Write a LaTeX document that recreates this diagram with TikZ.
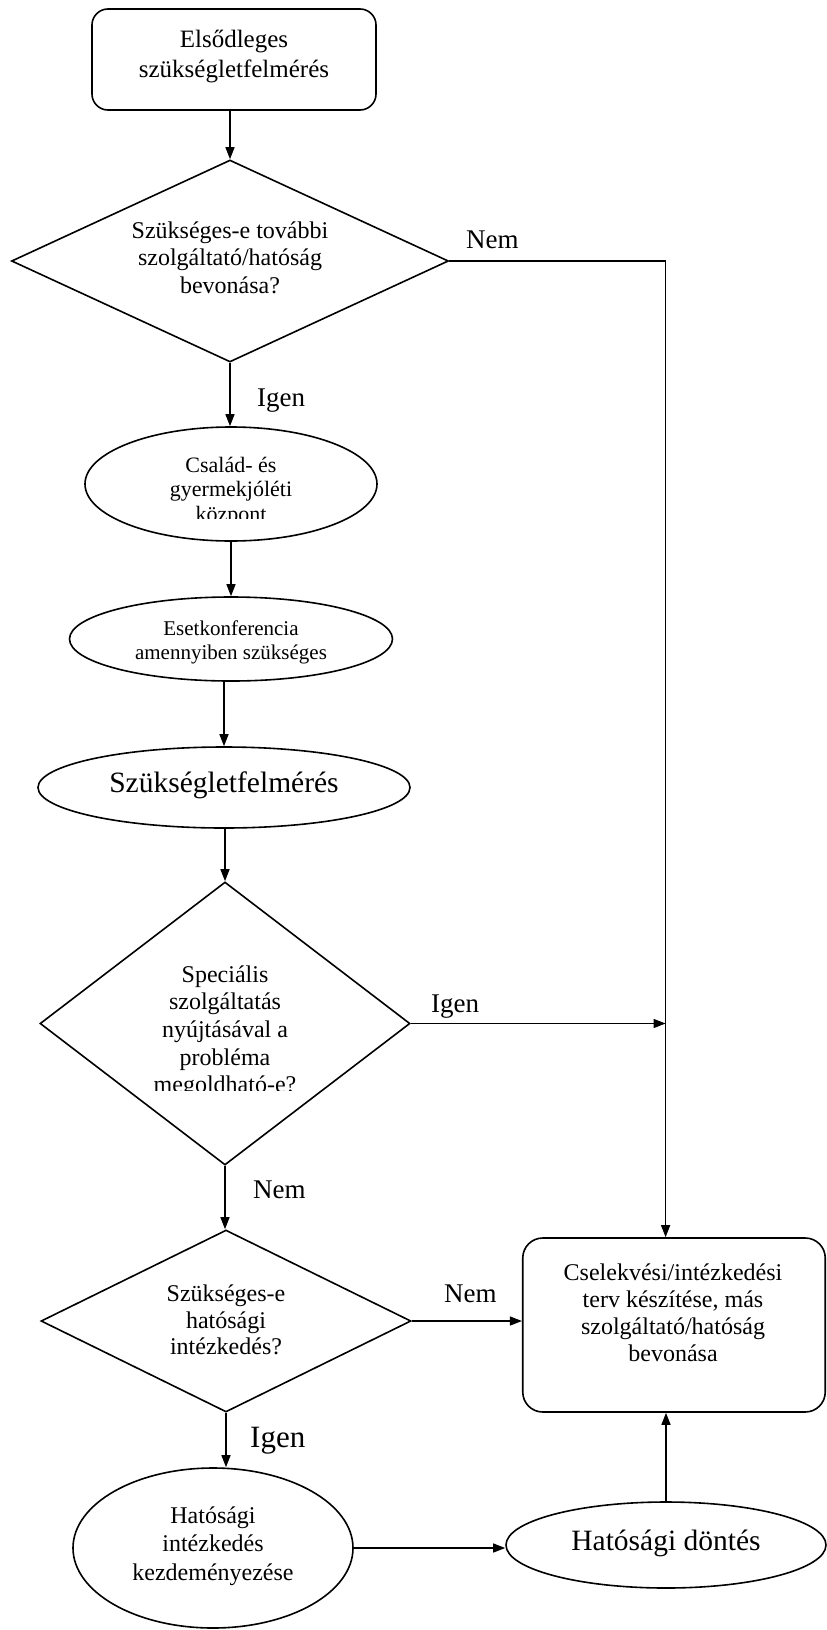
\documentclass[tikz,border=0pt]{standalone}
\usepackage{fontspec}
\setmainfont{Liberation Serif}
\usetikzlibrary{shapes.geometric,arrows.meta}
\begin{document}
\begin{tikzpicture}[x=1pt,y=-1pt,
  shapeline/.style={draw, line width=1.6pt},
  arr/.style={-{Triangle[length=12pt,width=9pt]}, line width=1.3pt},
  rbox/.style={shapeline, rectangle, rounded corners=16pt, inner sep=0pt},
  ell/.style={shapeline, ellipse, inner sep=0pt},
  dia/.style={shapeline, diamond, inner sep=0pt},
  txt/.style={inner sep=0pt, align=center},
  lbl/.style={inner sep=0pt, anchor=base west, font=\fontsize{27}{30}\selectfont},
]
\fill[white] (0,0) rectangle (827,1630);
\useasboundingbox (0,0) rectangle (827,1630);

% shapes
\node[rbox, minimum width=284pt, minimum height=101pt] (b1) at (234,59.5) {};
\node[txt, font=\fontsize{25}{30}\selectfont] (t1) at (234,57) {Elsődleges\\szükségletfelmérés};

\node[dia, minimum width=437pt, minimum height=202pt] (d1) at (230,261) {};
\node[txt, font=\fontsize{24}{27.5}\selectfont] (t2) at (230,257.5) {Szükséges-e további\\szolgáltató/hatóság\\bevonása?};

\node[ell, minimum width=292pt, minimum height=114pt] (e1) at (231,484) {};
\begin{scope}
  \clip (100,440) rectangle (360,518.5);
  \node[txt, font=\fontsize{22}{24.5}\selectfont] (t3) at (231,491.3) {Család- és\\gyermekjóléti\\központ};
\end{scope}

\node[ell, minimum width=323pt, minimum height=84pt] (e2) at (231,639) {};
\begin{scope}
  \clip (80,600) rectangle (390,663);
  \node[txt, font=\fontsize{21}{24}\selectfont] (t4) at (231,642) {Esetkonferencia\\amennyiben szükséges};
\end{scope}

\node[ell, minimum width=372pt, minimum height=81pt] (e3) at (224,787.5) {};
\node[inner sep=0pt, anchor=base, font=\fontsize{29.5}{33}\selectfont] (t5) at (224,792) {Szükségletfelmérés};

\node[dia, minimum width=370pt, minimum height=283pt] (d2) at (225,1023.5) {};
\begin{scope}
  \clip (60,900) rectangle (400,1090);
  \node[txt, font=\fontsize{24}{27.7}\selectfont] (t6) at (225,1031.8) {Speciális\\szolgáltatás\\nyújtásával a\\probléma\\megoldható-e?};
\end{scope}

\node[dia, minimum width=370pt, minimum height=182pt] (d3) at (226,1321) {};
\node[txt, font=\fontsize{24}{26.5}\selectfont] (t7) at (226,1320.3) {Szükséges-e\\hatósági\\intézkedés?};

\node[rbox, rounded corners=20pt, minimum width=302.5pt, minimum height=174pt] (b2) at (674,1325) {};
\node[txt, font=\fontsize{24}{27.3}\selectfont] (t8) at (673,1312.75) {Cselekvési/intézkedési\\terv készítése, más\\szolgáltató/hatóság\\bevonása};

\node[ell, minimum width=280pt, minimum height=160pt] (e4) at (213,1548) {};
\node[txt, font=\fontsize{24}{28.5}\selectfont] (t9) at (213,1546) {Hatósági\\intézkedés\\kezdeményezése};

\node[ell, minimum width=320pt, minimum height=86pt] (e5) at (666,1545) {};
\node[inner sep=0pt, anchor=base, font=\fontsize{29.5}{33}\selectfont] (t10) at (666,1550) {Hatósági döntés};

\coordinate (vl) at (665.6,0);

% labels
\node[lbl] (l1) at (466,248) {Nem};
\node[lbl] (l2) at (257,406) {Igen};
\node[lbl] (l3) at (431,1012) {Igen};
\node[lbl] (l4) at (253,1198) {Nem};
\node[lbl] (l5) at (444,1302) {Nem};
\node[lbl, font=\fontsize{31}{34}\selectfont] (l6) at (250,1447) {Igen};

% connectors
\draw[arr] (d1.north |- b1.south) -- (d1.north);
\draw[arr] (d1.east) -- (d1.east -| vl) -- (vl |- b2.north);
\draw[arr] (d1.south) -- (d1.south |- e1.north);
\draw[arr] (e2.north |- e1.south) -- (e2.north);
\draw[arr] (e3.north |- e2.south) -- (e3.north);
\draw[arr] (d2.north |- e3.south) -- (d2.north);
\draw[arr] (d2.east) -- (d2.east -| vl);
\draw[arr] (d2.south) -- (d2.south |- d3.north);
\draw[arr] (d3.east) -- (d3.east -| b2.west);
\draw[arr] (d3.south) -- (d3.south |- e4.north);
\draw[arr] (e4.east) -- (e4.east -| e5.west);
\draw[arr] (e5.north) -- (e5.north |- b2.south);
\end{tikzpicture}
\end{document}
